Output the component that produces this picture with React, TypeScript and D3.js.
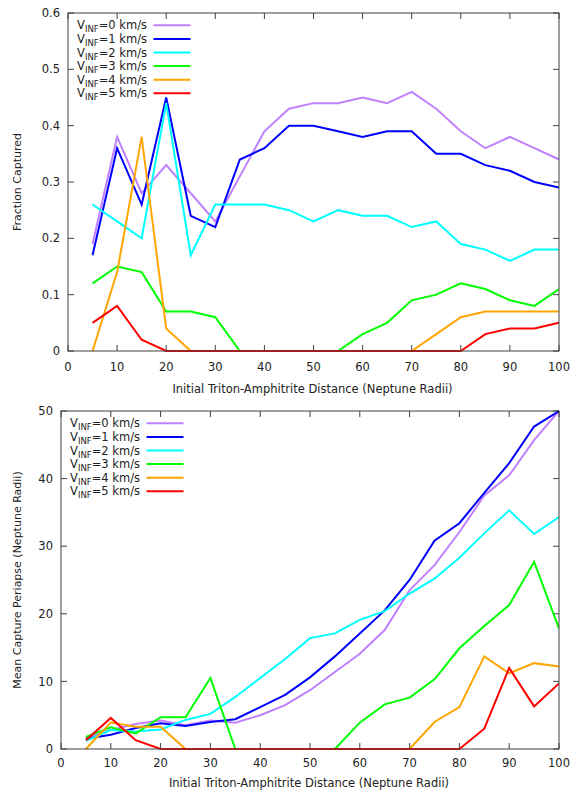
import React, { useEffect, useRef } from 'react';
import * as d3 from 'd3';

const distances = [5, 10, 15, 20, 25, 30, 35, 40, 45, 50, 55, 60, 65, 70, 75, 80, 85, 90, 95, 100];
const speeds = ['0', '1', '2', '3', '4', '5'];
const colors = ['#c080ff', '#0000ff', '#00ffff', '#00ff00', '#ffa500', '#ff0000'];

const capV0 = [0.19, 0.38, 0.28, 0.33, 0.28, 0.23, 0.31, 0.39, 0.43, 0.44, 0.44, 0.45, 0.44, 0.46, 0.43, 0.39, 0.36, 0.38, 0.36, 0.34];
const capV1 = [0.17, 0.36, 0.26, 0.45, 0.24, 0.22, 0.34, 0.36, 0.40, 0.40, 0.39, 0.38, 0.39, 0.39, 0.35, 0.35, 0.33, 0.32, 0.30, 0.29];
const capV2 = [0.26, 0.23, 0.20, 0.44, 0.17, 0.26, 0.26, 0.26, 0.25, 0.23, 0.25, 0.24, 0.24, 0.22, 0.23, 0.19, 0.18, 0.16, 0.18, 0.18];
const capV3 = [0.12, 0.15, 0.14, 0.07, 0.07, 0.06, 0, 0, 0, 0, 0, 0.03, 0.05, 0.09, 0.10, 0.12, 0.11, 0.09, 0.08, 0.11];
const capV4 = [0, 0.14, 0.38, 0.04, 0, 0, 0, 0, 0, 0, 0, 0, 0, 0, 0.03, 0.06, 0.07, 0.07, 0.07, 0.07];
const capV5 = [0.05, 0.08, 0.02, 0, 0, 0, 0, 0, 0, 0, 0, 0, 0, 0, 0, 0, 0.03, 0.04, 0.04, 0.05];

const periV0 = [1.6, 2.8, 3.7, 4.2, 3.5, 4.2, 3.9, 5.0, 6.5, 8.7, 11.4, 14.1, 17.6, 23.5, 27.2, 32.1, 37.5, 40.5, 45.7, 50.0];
const periV1 = [1.5, 2.1, 3.1, 3.8, 3.4, 4.0, 4.4, 6.2, 8.0, 10.6, 13.7, 17.1, 20.5, 25.0, 30.8, 33.4, 37.9, 42.3, 47.7, 50.0];
const periV2 = [1.2, 2.8, 2.6, 2.9, 4.3, 5.2, 7.7, 10.5, 13.3, 16.4, 17.1, 19.1, 20.4, 23.0, 25.2, 28.3, 31.9, 35.3, 31.8, 34.3];
const periV3 = [1.8, 3.2, 2.3, 4.7, 4.7, 10.5, 0, 0, 0, 0, 0, 3.9, 6.6, 7.6, 10.3, 14.9, 18.2, 21.3, 27.7, 17.8];
const periV4 = [0, 3.9, 3.3, 3.3, 0, 0, 0, 0, 0, 0, 0, 0, 0, 0, 4.0, 6.2, 13.7, 11.2, 12.7, 12.2];
const periV5 = [1.3, 4.6, 1.3, 0, 0, 0, 0, 0, 0, 0, 0, 0, 0, 0, 0, 0, 3.0, 12.0, 6.3, 9.7];

const xTicks = [0, 10, 20, 30, 40, 50, 60, 70, 80, 90, 100];
const capTicks = [0, 0.1, 0.2, 0.3, 0.4, 0.5, 0.6];
const periTicks = [0, 10, 20, 30, 40, 50];

const FONT = '"DejaVu Sans", sans-serif';
const AXIS = '#404040';

function drawPanel(svg, opts) {
  const { left, right, top, bottom, yMax, yTicks, yFmt, series, yTitle, legendEnd, xLabelY, xTitleY } = opts;
  const x = d3.scaleLinear().domain([0, 100]).range([left, right]);
  const y = d3.scaleLinear().domain([0, yMax]).range([bottom, top]);
  const g = svg.append('g');
  const clipId = 'clip' + Math.round(top);
  g.append('clipPath').attr('id', clipId)
    .append('rect').attr('x', left).attr('y', top - 1).attr('width', right - left).attr('height', bottom - top + 2);

  // ticks, mirrored inward
  const tl = 6;
  xTicks.forEach(t => {
    g.append('line').attr('x1', x(t)).attr('x2', x(t)).attr('y1', bottom).attr('y2', bottom - tl).attr('stroke', AXIS);
    g.append('line').attr('x1', x(t)).attr('x2', x(t)).attr('y1', top).attr('y2', top + tl).attr('stroke', AXIS);
    g.append('text').attr('x', x(t)).attr('y', xLabelY).attr('text-anchor', 'middle')
      .attr('font-family', FONT).attr('font-size', 11.5).attr('fill', '#222').text(t);
  });
  yTicks.forEach(t => {
    g.append('line').attr('x1', left).attr('x2', left + tl).attr('y1', y(t)).attr('y2', y(t)).attr('stroke', AXIS);
    g.append('line').attr('x1', right).attr('x2', right - tl).attr('y1', y(t)).attr('y2', y(t)).attr('stroke', AXIS);
    g.append('text').attr('x', left - 8).attr('y', y(t)).attr('dy', '0.36em').attr('text-anchor', 'end')
      .attr('font-family', FONT).attr('font-size', 11.5).attr('fill', '#222').text(yFmt(t));
  });

  const line = d3.line().x((d, i) => x(distances[i])).y(d => y(d));
  series.forEach((s, i) => {
    g.append('path').attr('d', line(s)).attr('fill', 'none').attr('stroke', colors[i])
      .attr('stroke-width', 2).attr('stroke-linejoin', 'miter').attr('clip-path', `url(#${clipId})`);
  });

  g.append('rect').attr('x', left).attr('y', top).attr('width', right - left).attr('height', bottom - top)
    .attr('fill', 'none').attr('stroke', AXIS).attr('stroke-width', 1);

  // legend
  speeds.forEach((v, i) => {
    const ly = top + 12.3 + i * 13.6;
    const t = g.append('text').attr('x', legendEnd).attr('y', ly).attr('dy', '0.36em').attr('text-anchor', 'end')
      .attr('font-family', FONT).attr('font-size', 11.5).attr('fill', '#222');
    t.append('tspan').text('V');
    t.append('tspan').attr('font-size', 8.5).attr('dy', 3).text('INF');
    t.append('tspan').attr('dy', -3).text(`=${v} km/s`);
    g.append('line').attr('x1', legendEnd + 6.5).attr('x2', legendEnd + 43.5).attr('y1', ly).attr('y2', ly)
      .attr('stroke', colors[i]).attr('stroke-width', 2);
  });

  g.append('text').attr('x', (left + right) / 2 - 1).attr('y', xTitleY).attr('text-anchor', 'middle')
    .attr('font-family', FONT).attr('font-size', 11.5).attr('fill', '#222')
    .text('Initial Triton-Amphitrite Distance (Neptune Radii)');
  g.append('text').attr('transform', `translate(21,${(top + bottom) / 2}) rotate(-90)`).attr('text-anchor', 'middle')
    .attr('font-family', FONT).attr('font-size', 11).attr('fill', '#222').text(yTitle);
}

const App = () => {
  const ref = useRef(null);

  useEffect(() => {
    const svg = d3.select(ref.current);
    svg.selectAll('*').remove();
    svg.append('rect').attr('width', 571).attr('height', 790).attr('fill', '#fff');

    drawPanel(svg, {
      left: 68, right: 559, top: 13, bottom: 351, yMax: 0.6, yTicks: capTicks,
      yFmt: d => (d === 0 ? '0' : d3.format('.1f')(d)),
      series: [capV0, capV1, capV2, capV3, capV4, capV5],
      yTitle: 'Fraction Captured', legendEnd: 147, xLabelY: 371, xTitleY: 393,
    });
    drawPanel(svg, {
      left: 61, right: 559, top: 411, bottom: 749, yMax: 50, yTicks: periTicks,
      yFmt: d => String(d),
      series: [periV0, periV1, periV2, periV3, periV4, periV5],
      yTitle: 'Mean Capture Periapse (Neptune Radii)', legendEnd: 140, xLabelY: 767, xTitleY: 787,
    });
  }, []);

  return (
    <svg ref={ref} width={571} height={790}
      style={{ position: 'absolute', top: 0, left: 0, display: 'block' }} />
  );
};

export default App;
